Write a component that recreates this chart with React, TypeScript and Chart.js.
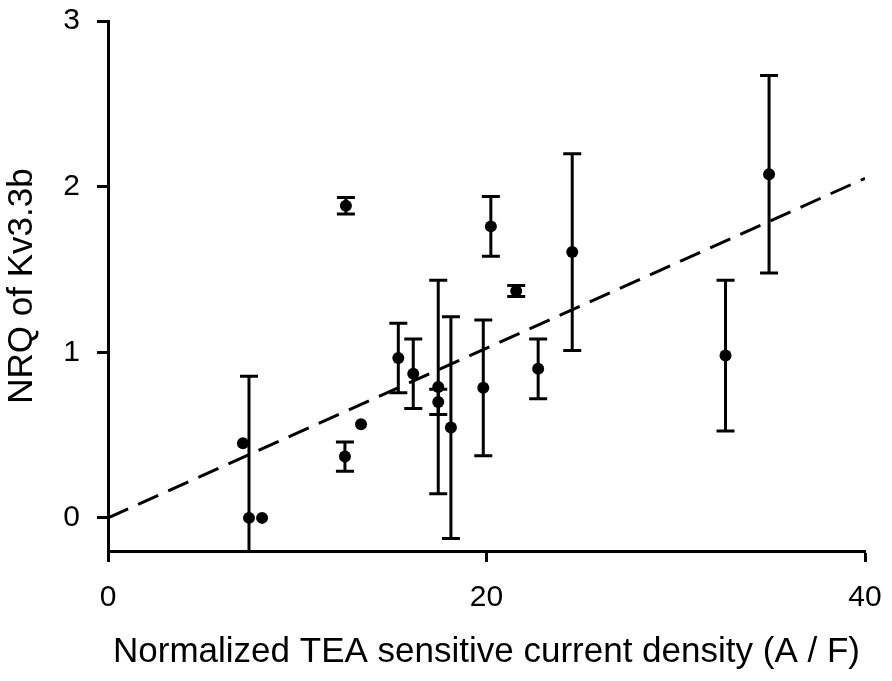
import { useEffect, useRef } from 'react';
import { Chart, registerables } from 'chart.js';
import type { Plugin } from 'chart.js';

Chart.register(...registerables);

// measured points: x = current density, y = NRQ, yErrors = +/- bar half length (0 = no bar)
const xValues = [7.13, 7.45, 8.14, 12.52, 12.57, 13.37, 15.34, 16.13, 17.45, 17.45, 18.12, 19.83, 20.23, 21.57, 22.73, 24.53, 32.63, 34.93];
const yValues = [0.45, 0.0, 0.0, 0.37, 1.885, 0.565, 0.965, 0.87, 0.79, 0.70, 0.545, 0.785, 1.76, 1.37, 0.9, 1.605, 0.98, 2.075];
const yErrors = [0, 0.855, 0, 0.088, 0.05, 0, 0.21, 0.21, 0.645, 0.076, 0.67, 0.41, 0.18, 0.033, 0.18, 0.594, 0.455, 0.596];

// linear fit (dashed)
const fitX = [0, 40];
const fitY = [0, 2.05];

const xTicks = [0, 20, 40];
const yTicks = [0, 1, 2, 3];

const FONT = '"Liberation Sans", Arial, Helvetica, sans-serif';

const errorBars: Plugin = {
  id: 'errorBars',
  beforeDatasetsDraw(chart) {
    const { ctx, chartArea, scales } = chart;
    const xs = scales.x;
    const ys = scales.y;
    ctx.save();
    ctx.beginPath();
    ctx.rect(chartArea.left, chartArea.top, chartArea.right - chartArea.left, chartArea.bottom - chartArea.top);
    ctx.clip();
    ctx.strokeStyle = '#000';
    ctx.lineWidth = 3;
    xValues.forEach((xv, i) => {
      const err = yErrors[i];
      if (!err) return;
      const px = xs.getPixelForValue(xv);
      const top = ys.getPixelForValue(yValues[i] + err);
      const bottom = ys.getPixelForValue(yValues[i] - err);
      ctx.beginPath();
      ctx.moveTo(px, top);
      ctx.lineTo(px, bottom);
      ctx.moveTo(px - 9, top);
      ctx.lineTo(px + 9, top);
      ctx.moveTo(px - 9, bottom);
      ctx.lineTo(px + 9, bottom);
      ctx.stroke();
    });
    ctx.restore();
  },
};

export default function App() {
  const canvasRef = useRef<HTMLCanvasElement>(null);

  useEffect(() => {
    if (!canvasRef.current) return;
    const chart = new Chart(canvasRef.current, {
      type: 'scatter',
      data: {
        datasets: [
          {
            type: 'line',
            label: 'fit',
            data: fitX.map((x, i) => ({ x, y: fitY[i] })),
            borderColor: '#000',
            borderWidth: 3,
            borderDash: [22, 11],
            pointRadius: 0,
            fill: false,
          },
          {
            label: 'NRQ',
            data: xValues.map((x, i) => ({ x, y: yValues[i] })),
            backgroundColor: '#000',
            borderColor: '#000',
            pointRadius: 6,
            borderWidth: 0,
          },
        ],
      },
      options: {
        responsive: false,
        animation: false,
        layout: { padding: { top: 21, right: 27, left: 0, bottom: 0 } },
        plugins: {
          legend: { display: false },
          tooltip: { enabled: false },
        },
        scales: {
          x: {
            type: 'linear',
            min: 0,
            max: 40,
            afterBuildTicks: (scale) => {
              scale.ticks = xTicks.map((v) => ({ value: v }));
            },
            afterFit: (scale) => {
              scale.height = 130;
              scale.paddingLeft = 0;
              scale.paddingRight = 0;
            },
            border: { color: '#000', width: 3 },
            grid: { drawOnChartArea: false, tickLength: 11, tickColor: '#000', tickWidth: 3 },
            ticks: { color: '#000', padding: 18, font: { family: FONT, size: 30 } },
            title: {
              display: true,
              text: 'Normalized TEA sensitive current density (A / F)',
              color: '#000',
              padding: { top: 0, bottom: 8 },
              font: { family: FONT, size: 35 },
            },
          },
          y: {
            type: 'linear',
            min: -0.2,
            max: 3,
            afterBuildTicks: (scale) => {
              scale.ticks = yTicks.map((v) => ({ value: v }));
            },
            afterFit: (scale) => {
              scale.width = 108;
              scale.paddingTop = 0;
              scale.paddingBottom = 0;
            },
            border: { color: '#000', width: 3 },
            grid: { drawOnChartArea: false, tickLength: 11, tickColor: '#000', tickWidth: 3 },
            ticks: { color: '#000', padding: 17, font: { family: FONT, size: 30 } },
            title: {
              display: true,
              text: 'NRQ of Kv3.3b',
              color: '#000',
              padding: { top: 1, bottom: 0 },
              font: { family: FONT, size: 35 },
            },
          },
        },
      },
      plugins: [errorBars],
    });
    return () => chart.destroy();
  }, []);

  return (
    <div style={{ position: 'absolute', left: 0, top: 0, width: 892, height: 681, background: '#fff' }}>
      <canvas ref={canvasRef} width={892} height={681} style={{ display: 'block' }} />
    </div>
  );
}
